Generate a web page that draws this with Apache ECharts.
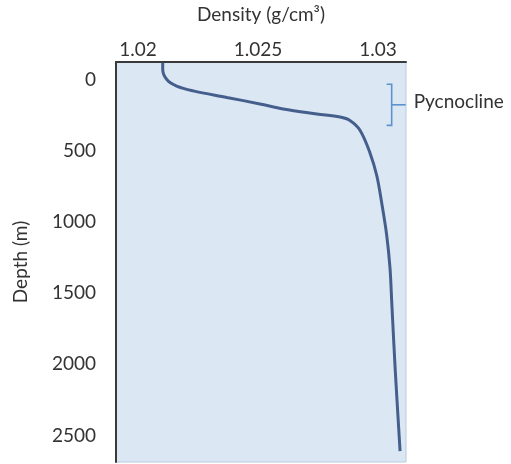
<!DOCTYPE html>
<html>
<head>
<meta charset="utf-8">
<script src="https://cdn.jsdelivr.net/npm/echarts@6/dist/echarts.min.js"></script>
<style>
html,body{margin:0;padding:0;background:#ffffff;}
#chart{width:511px;height:464px;}
</style>
</head>
<body>
<div id="chart"></div>
<script>
// Density profile
const density = [1.02103, 1.02103, 1.02120, 1.02161, 1.02230, 1.02370, 1.02508, 1.02605, 1.02745, 1.02842, 1.02883, 1.02925, 1.02967, 1.02995, 1.03015, 1.03036, 1.03050, 1.03057, 1.03071, 1.03092];
const depth   = [-121, -73, -3, 43, 77, 123, 169, 204, 239, 261, 285, 354, 515, 674, 861, 1089, 1322, 1553, 2014, 2611];

const densityTicks = [1.02, 1.025, 1.03];
const depthTicks = [0, 500, 1000, 1500, 2000, 2500];

// Pycnocline bracket annotation
const pycnoclineLabel = 'Pycnocline';
const pycnoclineTop = 30;
const pycnoclineBottom = 320;
const pycnoclineDensity = 1.03057;

const FONT = 'Lato';
const chart = echarts.init(document.getElementById('chart'));
chart.setOption({
  animation: false,
  grid: {
    left: 116, top: 57, right: 105, bottom: 2,
    show: true, backgroundColor: '#dce7f4', borderColor: '#b7cbe0', borderWidth: 1
  },
  xAxis: {
    type: 'value', position: 'top',
    min: 1.019083, max: 1.031167,
    name: 'Density (g/cm³)', nameLocation: 'middle', nameGap: 38,
    nameTextStyle: { fontFamily: FONT, fontSize: 19, color: '#333333' },
    axisLine: { show: true, onZero: false, lineStyle: { color: '#3a3a3a', width: 2 } },
    axisTick: { show: false },
    splitLine: { show: false },
    axisLabel: {
      customValues: densityTicks, margin: 3,
      fontFamily: FONT, fontSize: 19, color: '#333333',
      formatter: v => String(+(+v).toFixed(3))
    }
  },
  yAxis: {
    type: 'value', inverse: true,
    min: -126, max: 2687,
    name: 'Depth (m)', nameLocation: 'middle', nameGap: 86,
    nameTextStyle: { fontFamily: FONT, fontSize: 19, color: '#333333' },
    axisLine: { show: true, onZero: false, lineStyle: { color: '#3a3a3a', width: 2 } },
    axisTick: { show: false },
    splitLine: { show: false },
    axisLabel: {
      customValues: depthTicks, margin: 20,
      fontFamily: FONT, fontSize: 19, color: '#333333',
      formatter: v => String(v)
    }
  },
  series: [
    {
      type: 'line',
      data: density.map((d, i) => [d, depth[i]]),
      smooth: 0.35,
      showSymbol: false,
      symbol: 'none',
      lineStyle: { color: '#455f8c', width: 3 },
      z: 3
    },
    {
      type: 'custom',
      clip: false,
      silent: true,
      data: [[pycnoclineDensity, pycnoclineTop, pycnoclineBottom]],
      renderItem: function (params, api) {
        const top = api.coord([api.value(0), api.value(1)]);
        const bot = api.coord([api.value(0), api.value(2)]);
        const midY = (top[1] + bot[1]) / 2;
        const x = top[0];
        const style = { stroke: '#5b93cf', lineWidth: 1.6, fill: null };
        return {
          type: 'group',
          children: [
            { type: 'polyline', shape: { points: [[x - 5, top[1]], [x, top[1]], [x, bot[1]], [x - 5, bot[1]]] }, style: style },
            { type: 'line', shape: { x1: x, y1: midY, x2: x + 14, y2: midY }, style: { stroke: '#5b93cf', lineWidth: 1.6 } },
            { type: 'text', x: x + 22, y: midY - 3, style: { text: pycnoclineLabel, fontFamily: FONT, fontSize: 19, fill: '#333333', textVerticalAlign: 'middle', textAlign: 'left' } }
          ]
        };
      },
      z: 4
    }
  ]
});
</script>
</body>
</html>
